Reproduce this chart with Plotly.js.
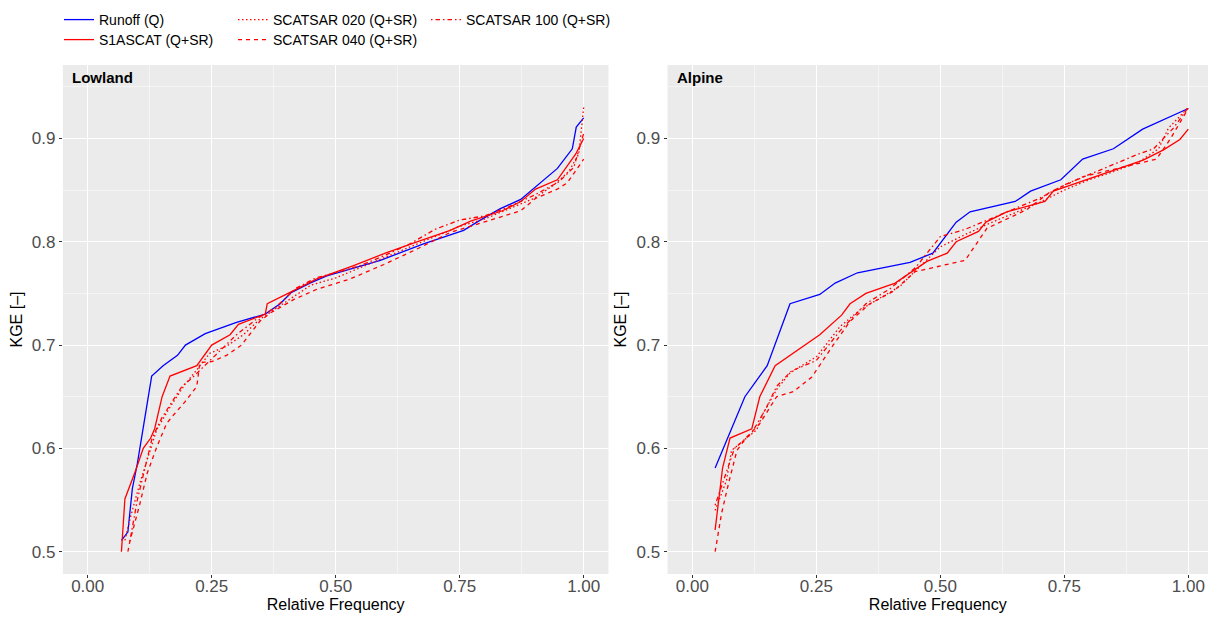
<!DOCTYPE html>
<html>
<head>
<meta charset="utf-8">
<script src="https://cdn.plot.ly/plotly-3.0.1.min.js"></script>
<style>html,body{margin:0;padding:0;background:#fff}#chart{width:1208px;height:617px}</style>
</head>
<body>
<div id="chart"></div>
<script>
// ---------- data: Lowland ----------
const lowRunoffX = [0.068,0.081,0.090,0.100,0.129,0.152,0.181,0.197,0.237,0.300,0.358,0.388,0.411,0.448,0.482,0.590,0.677,0.758,0.788,0.832,0.873,0.900,0.947,0.977,0.985,1.000];
const lowRunoffY = [0.511,0.519,0.561,0.585,0.670,0.680,0.690,0.700,0.711,0.722,0.730,0.740,0.751,0.760,0.767,0.782,0.798,0.811,0.820,0.832,0.841,0.852,0.871,0.890,0.911,0.920];
const lowS1X = [0.068,0.075,0.097,0.112,0.127,0.135,0.150,0.166,0.220,0.250,0.287,0.304,0.358,0.362,0.408,0.462,0.536,0.600,0.671,0.731,0.772,0.836,0.873,0.903,0.947,0.967,0.984,1.000];
const lowS1Y = [0.500,0.551,0.579,0.600,0.610,0.619,0.650,0.670,0.680,0.700,0.710,0.720,0.730,0.740,0.751,0.764,0.777,0.789,0.801,0.811,0.820,0.830,0.839,0.851,0.860,0.874,0.885,0.900];
const low020X = [0.075,0.086,0.105,0.122,0.139,0.166,0.196,0.220,0.246,0.280,0.314,0.347,0.400,0.450,0.500,0.550,0.600,0.650,0.700,0.750,0.800,0.850,0.900,0.940,0.970,0.990,1.000];
const low020Y = [0.511,0.533,0.566,0.592,0.618,0.640,0.662,0.676,0.692,0.699,0.710,0.725,0.742,0.758,0.765,0.775,0.785,0.795,0.805,0.815,0.822,0.832,0.842,0.855,0.868,0.885,0.930];
const low040X = [0.081,0.085,0.105,0.120,0.139,0.159,0.176,0.196,0.220,0.226,0.250,0.280,0.310,0.347,0.368,0.415,0.462,0.529,0.597,0.664,0.731,0.805,0.873,0.903,0.947,0.967,0.987,1.000];
const low040Y = [0.500,0.510,0.546,0.576,0.601,0.624,0.634,0.645,0.660,0.683,0.684,0.690,0.700,0.723,0.731,0.744,0.754,0.764,0.778,0.793,0.809,0.820,0.830,0.842,0.851,0.857,0.871,0.880];
const low100X = [0.085,0.100,0.115,0.130,0.150,0.170,0.190,0.210,0.240,0.270,0.300,0.340,0.380,0.420,0.460,0.500,0.550,0.600,0.650,0.700,0.750,0.800,0.850,0.900,0.950,0.980,1.000];
const low100Y = [0.510,0.550,0.580,0.610,0.630,0.645,0.660,0.668,0.682,0.695,0.710,0.725,0.737,0.755,0.765,0.770,0.777,0.787,0.798,0.812,0.821,0.825,0.834,0.845,0.858,0.872,0.905];

// ---------- data: Alpine ----------
const alpRunoffX = [0.046,0.106,0.151,0.197,0.257,0.288,0.333,0.439,0.485,0.532,0.560,0.651,0.682,0.743,0.787,0.849,0.908,1.000];
const alpRunoffY = [0.581,0.650,0.680,0.740,0.749,0.760,0.770,0.780,0.789,0.819,0.829,0.839,0.849,0.860,0.880,0.890,0.909,0.929];
const alpS1X = [0.046,0.061,0.076,0.120,0.136,0.167,0.257,0.301,0.318,0.350,0.409,0.473,0.514,0.532,0.577,0.592,0.634,0.711,0.728,0.909,0.950,0.983,1.000];
const alpS1Y = [0.521,0.581,0.610,0.619,0.650,0.680,0.710,0.729,0.740,0.750,0.760,0.781,0.789,0.800,0.810,0.819,0.829,0.839,0.849,0.879,0.889,0.899,0.909];
const alp020X = [0.046,0.069,0.079,0.130,0.143,0.170,0.197,0.251,0.298,0.338,0.419,0.450,0.500,0.550,0.600,0.650,0.700,0.750,0.800,0.850,0.900,0.940,0.960,0.980,1.000];
const alp020Y = [0.540,0.569,0.598,0.618,0.634,0.657,0.673,0.689,0.718,0.734,0.757,0.772,0.795,0.807,0.818,0.828,0.838,0.850,0.860,0.868,0.877,0.890,0.910,0.920,0.930];
const alp040X = [0.046,0.059,0.073,0.090,0.110,0.136,0.170,0.204,0.241,0.284,0.318,0.358,0.405,0.449,0.550,0.594,0.674,0.721,0.788,0.936,0.963,1.000];
const alp040Y = [0.500,0.537,0.566,0.598,0.611,0.624,0.650,0.655,0.669,0.700,0.723,0.740,0.752,0.771,0.782,0.813,0.831,0.848,0.863,0.880,0.899,0.929];
const alp100X = [0.046,0.070,0.085,0.120,0.150,0.170,0.200,0.250,0.300,0.350,0.400,0.450,0.500,0.550,0.600,0.650,0.700,0.750,0.800,0.850,0.900,0.930,0.970,1.000];
const alp100Y = [0.545,0.580,0.600,0.615,0.640,0.660,0.675,0.685,0.715,0.740,0.755,0.775,0.805,0.812,0.822,0.832,0.842,0.855,0.865,0.875,0.885,0.890,0.910,0.930];

const seriesNames = ["Runoff (Q)","S1ASCAT (Q+SR)","SCATSAR 020 (Q+SR)","SCATSAR 040 (Q+SR)","SCATSAR 100 (Q+SR)"];
const panelNames = ["Lowland","Alpine"];
const xTickVals = [0,0.25,0.5,0.75,1];
const xTickText = ["0.00","0.25","0.50","0.75","1.00"];
const yTickVals = [0.5,0.6,0.7,0.8,0.9];
const yTickText = ["0.5","0.6","0.7","0.8","0.9"];

const styles = [
  {color:"#0000FF", dash:"solid"},
  {color:"#FF0000", dash:"solid"},
  {color:"#FF0000", dash:"1.5px,2.5px"},
  {color:"#FF0000", dash:"4px,4px"},
  {color:"#FF0000", dash:"1.5px,3px,4.5px,3px"}
];
const legendIds = ["legend","legend2","legend3","legend4","legend5"];

const panels = [
  {xs:[lowRunoffX,lowS1X,low020X,low040X,low100X], ys:[lowRunoffY,lowS1Y,low020Y,low040Y,low100Y], xa:"x", ya:"y"},
  {xs:[alpRunoffX,alpS1X,alp020X,alp040X,alp100X], ys:[alpRunoffY,alpS1Y,alp020Y,alp040Y,alp100Y], xa:"x2", ya:"y2"}
];

const traces = [];
panels.forEach((p, pi) => {
  for (let i = 0; i < 5; i++) {
    traces.push({
      type:"scatter", mode:"lines",
      x:p.xs[i], y:p.ys[i], xaxis:p.xa, yaxis:p.ya,
      name:seriesNames[i],
      legend:legendIds[i],
      showlegend: pi === 0,
      line:{color:styles[i].color, dash:styles[i].dash, width:1.3}
    });
  }
});

const W = 1208, H = 617;
const FONT = "Liberation Sans, Arial, sans-serif";
function xAxis(domain, range) {
  return {
    domain:domain, range:range, tickvals:xTickVals, ticktext:xTickText,
    showgrid:true, gridcolor:"#FFFFFF", gridwidth:1.1, zeroline:false,
    ticks:"outside", ticklen:3, tickwidth:1, tickcolor:"#333333",
    ticklabelstandoff:-6,
    tickfont:{family:FONT, size:17, color:"#4D4D4D"},
    minor:{dtick:0.125, tick0:0, showgrid:true, gridcolor:"#FFFFFF", gridwidth:0.5, ticks:""},
    title:{text:"Relative Frequency", font:{family:FONT, size:16, color:"#000"}, standoff:3},
    automargin:false, showline:false
  };
}
function yAxis(anchor) {
  return {
    domain:[1-574/H, 1-65/H], range:[0.4784, 0.9711], anchor:anchor,
    tickvals:yTickVals, ticktext:yTickText,
    showgrid:true, gridcolor:"#FFFFFF", gridwidth:1.1, zeroline:false,
    ticks:"outside", ticklen:3, tickwidth:1, tickcolor:"#333333",
    tickfont:{family:FONT, size:17, color:"#4D4D4D"},
    minor:{dtick:0.05, tick0:0.5, showgrid:true, gridcolor:"#FFFFFF", gridwidth:0.5, ticks:""},
    title:{text:"KGE [–]", font:{family:FONT, size:16, color:"#000"}, standoff:5},
    automargin:false, showline:false
  };
}

const legendBase = {yanchor:"top", xanchor:"left", orientation:"v", bgcolor:"rgba(0,0,0,0)",
  font:{family:FONT, size:14, color:"#000"}, tracegroupgap:0, itemwidth:30};
const row1 = 1-4/H, row2 = 1-24/H;

const layout = {
  width:W, height:H,
  margin:{l:0, r:0, t:0, b:0, pad:0},
  paper_bgcolor:"#FFFFFF", plot_bgcolor:"#EBEBEB",
  font:{family:FONT},
  xaxis: xAxis([62.9/W, 608.5/W], [-0.05, 1.05]),
  xaxis2: Object.assign(xAxis([667.5/W, 1], [-0.05, (W-692.3)/496]), {anchor:"y2"}),
  yaxis: yAxis("x"),
  yaxis2: yAxis("x2"),
  legend: Object.assign({}, legendBase, {x:59/W, y:row1}),
  legend2: Object.assign({}, legendBase, {x:59/W, y:row2}),
  legend3: Object.assign({}, legendBase, {x:233/W, y:row1}),
  legend4: Object.assign({}, legendBase, {x:233/W, y:row2}),
  legend5: Object.assign({}, legendBase, {x:426/W, y:row1}),
  annotations: [
    {text:"<b>"+panelNames[0]+"</b>", xref:"paper", yref:"paper", x:70/W, y:1-77.5/H, xanchor:"left", yanchor:"middle", showarrow:false, font:{family:FONT, size:15, color:"#000"}},
    {text:"<b>"+panelNames[1]+"</b>", xref:"paper", yref:"paper", x:675/W, y:1-77.5/H, xanchor:"left", yanchor:"middle", showarrow:false, font:{family:FONT, size:15, color:"#000"}}
  ]
};

Plotly.newPlot("chart", traces, layout, {displayModeBar:false, staticPlot:true});
</script>
</body>
</html>
